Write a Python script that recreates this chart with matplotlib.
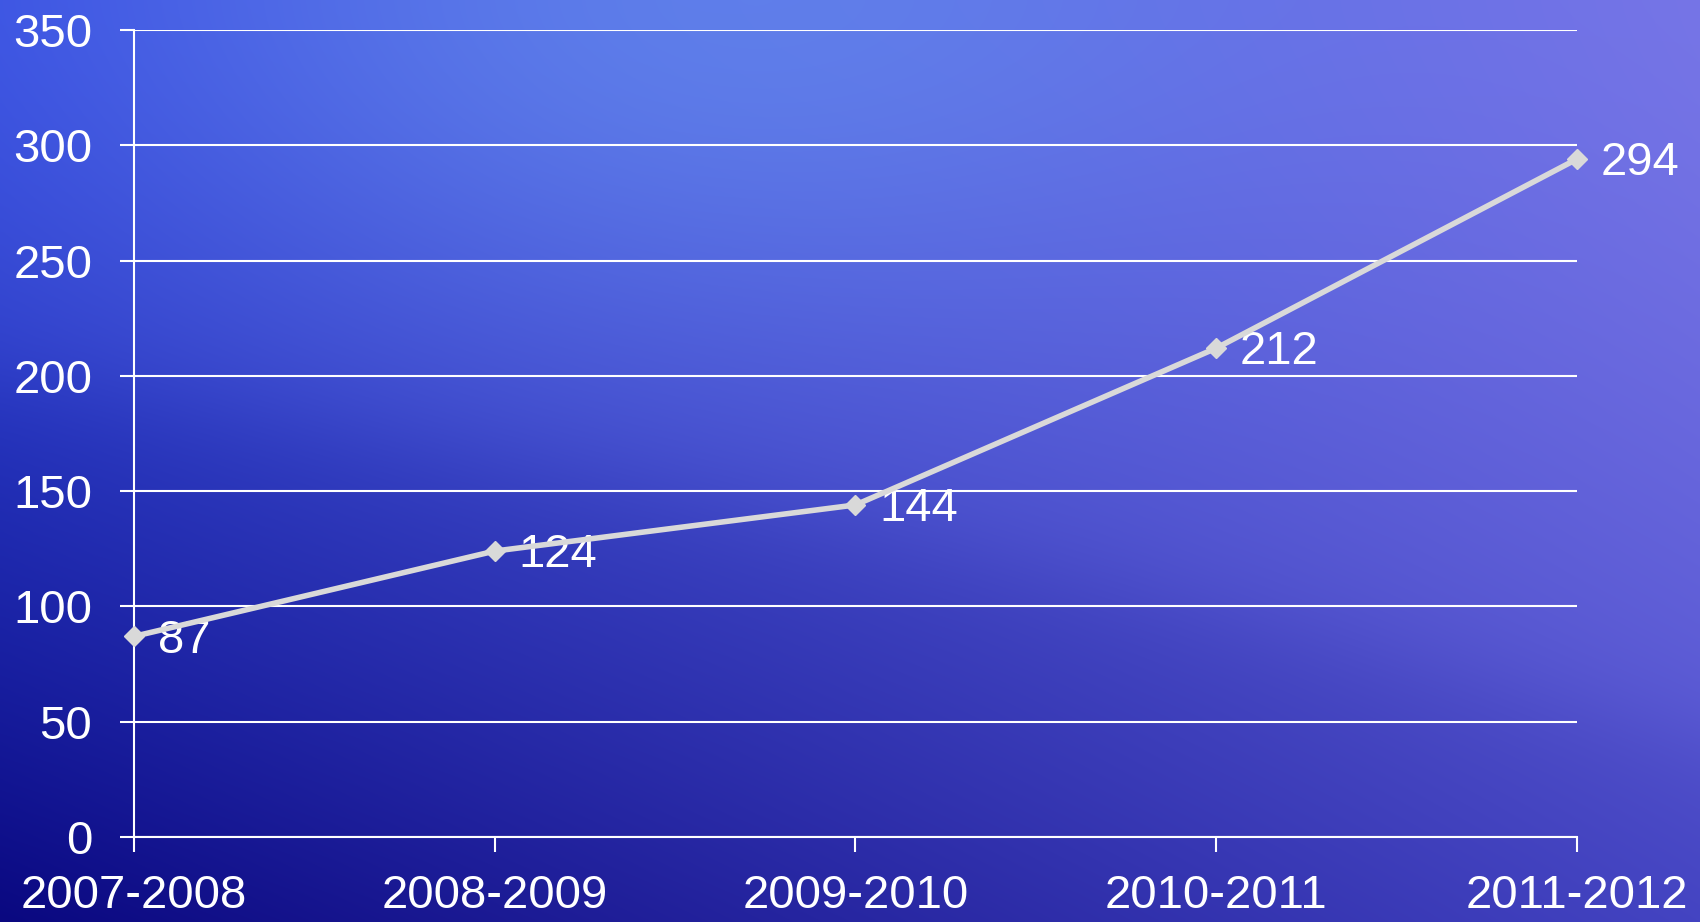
import matplotlib.pyplot as plt
import numpy as np

plt.rcParams['font.family'] = ['Liberation Sans', 'DejaVu Sans']

# Data
seasons = ['2007-2008', '2008-2009', '2009-2010', '2010-2011', '2011-2012']
values = [87, 124, 144, 212, 294]
y_ticks = [0, 50, 100, 150, 200, 250, 300, 350]

fig = plt.figure(figsize=(17, 9.22), dpi=100)

# Background gradient (dark navy bottom-left to light blue/violet top-right)
h, w = 461, 850
yy, xx = np.mgrid[0:1:h * 1j, 0:1:w * 1j]   # yy=0 is top
tl = np.array([0x30, 0x46, 0xd8]) / 255
tr = np.array([0x6c, 0x6a, 0xdc]) / 255
bl = np.array([0x0a, 0x08, 0x80]) / 255
br = np.array([0x44, 0x44, 0xc2]) / 255
top = tl * (1 - xx[..., None]) + tr * xx[..., None]
bot = bl * (1 - xx[..., None]) + br * xx[..., None]
wy = (yy ** 1.4)[..., None]
img = top * (1 - wy) + bot * wy
# bright area near the top centre
spot = np.exp(-(((xx - 0.42) / 0.32) ** 2 + ((yy - 0.0) / 0.35) ** 2))
img += spot[..., None] * (np.array([0x5c, 0x88, 0xe4]) / 255 - img) * 0.6
# soft lighter swoosh above a diagonal
edge = 0.42 + 0.38 * xx ** 1.3
band = 1 / (1 + np.exp((yy - edge) / 0.03))
img += band[..., None] * 0.04
img = np.clip(img, 0, 1)
bg = fig.add_axes([0, 0, 1, 1])
bg.imshow(img, aspect='auto', extent=[0, 1, 0, 1], interpolation='bilinear')
bg.axis('off')

ax = fig.add_axes([0.0788, 0.0922, 0.8488, 0.8753])
ax.patch.set_alpha(0)
x = np.arange(len(seasons))
ax.plot(x, values, color='#d9d9d9', linewidth=4, marker='D', markersize=10,
        markerfacecolor='#d9d9d9', markeredgecolor='#d9d9d9', zorder=4, clip_on=False)
for xi, v in zip(x, values):
    ax.annotate(str(v), (xi, v), xytext=(17, -3), textcoords='offset points',
                color='white', fontsize=34, va='center', ha='left')

ax.set_xlim(0, len(seasons) - 1)
ax.set_ylim(0, 350)
ax.set_xticks(x)
ax.set_xticklabels(seasons)
ax.set_yticks(y_ticks)
ax.grid(axis='y', color='white', linewidth=1.5)
ax.set_axisbelow(True)
for s in ['top', 'right']:
    ax.spines[s].set_visible(False)
for s in ['left', 'bottom']:
    ax.spines[s].set_color('white')
    ax.spines[s].set_linewidth(1.5)
ax.tick_params(axis='x', colors='white', labelsize=34, length=11, width=1.5,
               direction='out', pad=16)
ax.tick_params(axis='y', colors='white', labelsize=34, length=10, width=1.5,
               direction='out', pad=20)

fig.savefig('out.png', dpi=100)
